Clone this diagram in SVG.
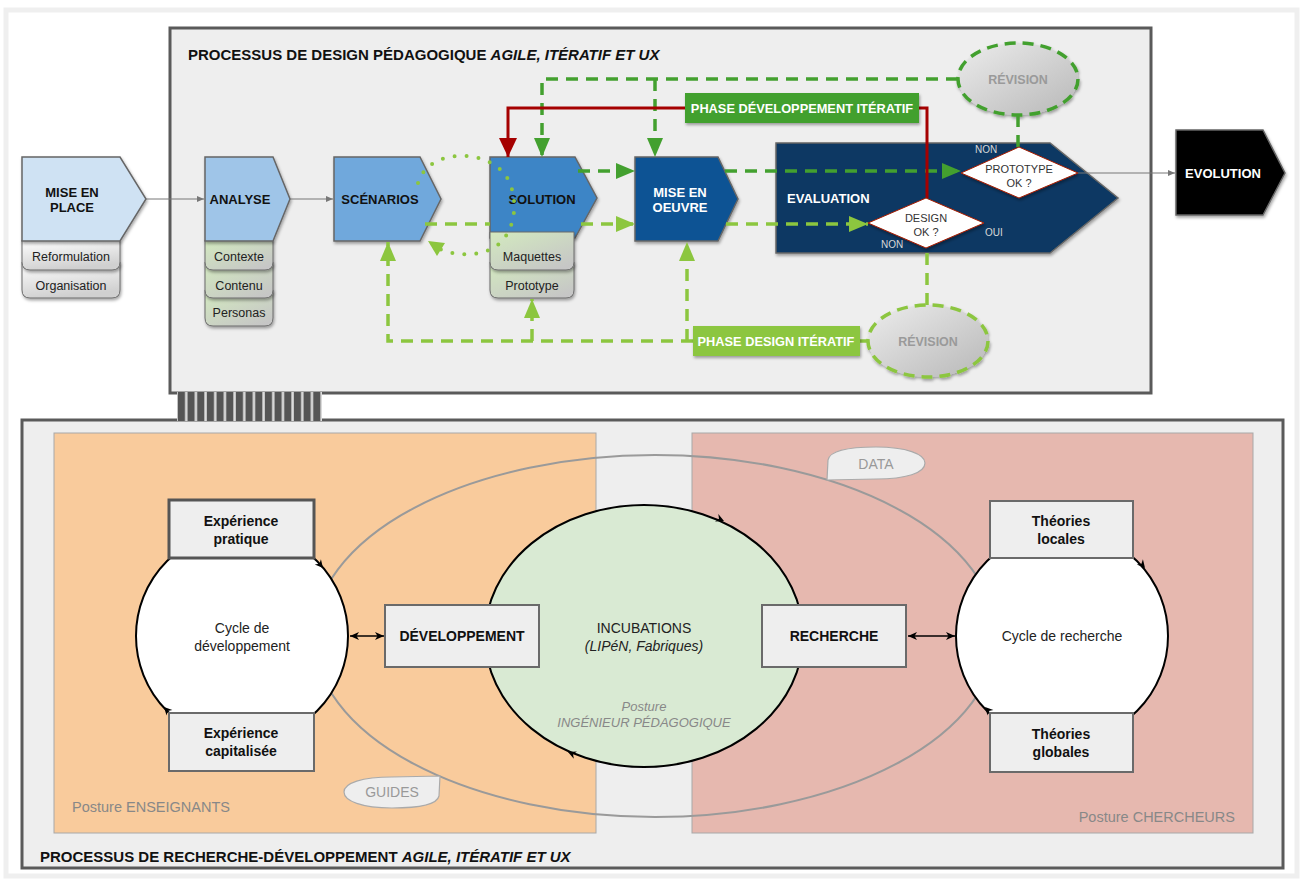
<svg xmlns="http://www.w3.org/2000/svg" width="1301" height="881" viewBox="0 0 1301 881">
<defs>
<style>
text{font-family:"Liberation Sans",Arial,Helvetica,sans-serif}
.t{font-size:15px;font-weight:bold;fill:#111}
.nb{font-size:13px;font-weight:bold;text-anchor:middle}
.tab{font-size:12.5px;fill:#222;text-anchor:middle}
.pent{stroke:#666;stroke-width:1.5}
.tabg{fill:url(#gGray);stroke:#6a6a6a;stroke-width:1}
.tabgr{fill:url(#gGreen);stroke:#6a6a6a;stroke-width:1}
.dg{fill:none;stroke:#43a02f;stroke-width:3.5;stroke-dasharray:12 8}
.lg{fill:none;stroke:#8cc63f;stroke-width:3.5;stroke-dasharray:12 8}
.dot{fill:none;stroke:#8cc63f;stroke-width:4;stroke-linecap:round;stroke-dasharray:0 12}
.red{fill:none;stroke:#a50000;stroke-width:3}
.thin{fill:none;stroke:#777;stroke-width:1}
.blk{fill:none;stroke:#000;stroke-width:1.5}
.box{fill:#eeeeee;stroke:#6a6a6a;stroke-width:2}
.bt{font-size:14px;font-weight:bold;text-anchor:middle;fill:#111}
.rt{font-size:14px;text-anchor:middle;fill:#222}
.gray{fill:#888;font-size:14.5px}
.dia{fill:#fff;stroke:#a61c00;stroke-width:1}
.dt{font-size:11px;fill:#333;text-anchor:middle}
.lbl{font-size:10px;fill:#d8d8d8}
.rev{fill:url(#gRev);stroke-width:3.5;stroke-dasharray:11 7}
.revt{font-size:12.5px;font-weight:bold;fill:#9a9a9a;text-anchor:middle}
.ph{font-size:12.8px;font-weight:bold;fill:#fff;text-anchor:middle}
.call{fill:#eeeeee;stroke:#aaa;stroke-width:1.2}
.callt{font-size:14px;fill:#999;text-anchor:middle}
</style>
<linearGradient id="gGray" x1="0" y1="0" x2="0.3" y2="1"><stop offset="0" stop-color="#ffffff"/><stop offset="1" stop-color="#d0d0d0"/></linearGradient>
<linearGradient id="gGreen" x1="0" y1="0" x2="0.8" y2="1"><stop offset="0" stop-color="#d3eabf"/><stop offset="1" stop-color="#c6c6c6"/></linearGradient>
<linearGradient id="gRev" x1="0" y1="0" x2="1" y2="1"><stop offset="0" stop-color="#ececec"/><stop offset="1" stop-color="#b8b8b8"/></linearGradient>
<filter id="sh" x="-20%" y="-20%" width="140%" height="150%"><feDropShadow dx="1" dy="2" stdDeviation="1.5" flood-color="#000" flood-opacity="0.35"/></filter>
<pattern id="hatch" patternUnits="userSpaceOnUse" x="177" y="0" width="9.67" height="40"><rect width="9.67" height="40" fill="#dddddd"/><rect x="0.8" width="7.2" height="40" fill="#555"/></pattern>
<marker id="aDG" markerUnits="userSpaceOnUse" markerWidth="20" markerHeight="16" refX="19" refY="8" orient="auto"><path d="M0,0 L19,8 L0,16 Z" fill="#43a02f"/></marker>
<marker id="aLG" markerUnits="userSpaceOnUse" markerWidth="20" markerHeight="16" refX="19" refY="8" orient="auto"><path d="M0,0 L19,8 L0,16 Z" fill="#8cc63f"/></marker>
<marker id="aR" markerUnits="userSpaceOnUse" markerWidth="20" markerHeight="18" refX="19" refY="9" orient="auto"><path d="M0,0 L19,9 L0,18 Z" fill="#a50000"/></marker>
<marker id="aG" markerUnits="userSpaceOnUse" markerWidth="8" markerHeight="6" refX="7" refY="3" orient="auto"><path d="M0,0 L7,3 L0,6 Z" fill="#777"/></marker>
<marker id="aB" markerUnits="userSpaceOnUse" markerWidth="10" markerHeight="8" refX="9" refY="4" orient="auto-start-reverse"><path d="M0,0 L9,4 L0,8 L2.5,4 Z" fill="#000"/></marker>
</defs>

<rect width="1301" height="881" fill="#ffffff"/>
<rect x="6" y="10" width="1291" height="866" fill="#ffffff" stroke="#efefef" stroke-width="5"/>

<!-- frames -->
<g id="frame-design">
<rect x="170" y="28" width="981" height="365" fill="#eeeeee" stroke="#5a5a5a" stroke-width="3"/>
<text x="188" y="60" class="t">PROCESSUS DE DESIGN PÉDAGOGIQUE <tspan font-style="italic">AGILE, ITÉRATIF ET UX</tspan></text>
</g>
<g id="frame-rd">
<rect x="22" y="420" width="1261" height="448" fill="#eeeeee" stroke="#5a5a5a" stroke-width="3"/>
<text x="40" y="862" class="t">PROCESSUS DE RECHERCHE-DÉVELOPPEMENT <tspan font-style="italic">AGILE, ITÉRATIF ET UX</tspan></text>
</g>
<g id="link-hatch">
<rect x="177" y="392" width="145" height="29" fill="url(#hatch)"/>
</g>

<!-- top nodes -->
<g id="mise-en-place">
<path class="tabg" filter="url(#sh)" d="M22,262 H120 V290 Q120,298 112,298 H30 Q22,298 22,290 Z"/>
<path class="tabg" filter="url(#sh)" d="M22,240 H120 V262 Q120,270 112,270 H30 Q22,270 22,262 Z"/>
<path class="pent" filter="url(#sh)" fill="#cfe2f3" d="M22,157 H120 L146,199 L120,241 H22 Z"/>
<text class="nb" x="72" y="197" fill="#111">MISE EN</text>
<text class="nb" x="72" y="212" fill="#111">PLACE</text>
<text class="tab" x="71" y="261">Reformulation</text>
<text class="tab" x="71" y="290">Organisation</text>
</g>

<g id="analyse">
<path class="tabgr" filter="url(#sh)" d="M205,290 H273 V318 Q273,326 265,326 H213 Q205,326 205,318 Z"/>
<path class="tabgr" filter="url(#sh)" d="M205,262 H273 V290 Q273,298 265,298 H213 Q205,298 205,290 Z"/>
<path class="tabgr" filter="url(#sh)" d="M205,240 H273 V262 Q273,270 265,270 H213 Q205,270 205,262 Z"/>
<path class="pent" filter="url(#sh)" fill="#9fc5e8" d="M205,157 H273 L290,199 L273,241 H205 Z"/>
<text class="nb" x="240" y="204" fill="#111">ANALYSE</text>
<text class="tab" x="239" y="261">Contexte</text>
<text class="tab" x="239" y="290">Contenu</text>
<text class="tab" x="239" y="317">Personas</text>
</g>

<g id="scenarios">
<path class="pent" filter="url(#sh)" fill="#6fa8dc" d="M334,157 H420 L441,199 L420,241 H334 Z"/>
<text class="nb" x="380" y="204" fill="#111">SCÉNARIOS</text>
</g>

<g id="solution">
<path class="tabgr" filter="url(#sh)" d="M490,262 H574 V290 Q574,298 566,298 H498 Q490,298 490,290 Z"/>
<path class="pent" filter="url(#sh)" fill="#3d85c6" d="M490,157 H575 L597,198 L575,238 H490 Z"/>
<path class="tabgr" filter="url(#sh)" d="M490,232 H574 V262 Q574,270 566,270 H498 Q490,270 490,262 Z"/>
<text class="nb" x="542" y="204" fill="#111">SOLUTION</text>
<text class="tab" x="532" y="261">Maquettes</text>
<text class="tab" x="532" y="290">Prototype</text>
</g>

<g id="mise-en-oeuvre">
<path class="pent" filter="url(#sh)" fill="#0b5394" d="M635,157 H718 L738,199 L718,241 H635 Z"/>
<text class="nb" x="680" y="197" fill="#fff">MISE EN</text>
<text class="nb" x="680" y="212" fill="#fff">OEUVRE</text>
</g>

<g id="evaluation">
<path class="pent" filter="url(#sh)" fill="#073763" d="M776,143 H1050 L1118,198 L1050,253 H776 Z"/>
<text x="787" y="203" font-size="13" font-weight="bold" fill="#fff">EVALUATION</text>
</g>

<g id="evolution">
<path class="pent" filter="url(#sh)" fill="#000" d="M1176,130 H1263 L1285,173 L1263,215 H1176 Z"/>
<text class="nb" x="1223" y="178" fill="#fff">EVOLUTION</text>
</g>

<g id="revision-top">
<ellipse class="rev" filter="url(#sh)" cx="1018" cy="79" rx="60" ry="36" stroke="#43a02f"/>
<text class="revt" x="1018" y="84">RÉVISION</text>
</g>

<g id="revision-bottom">
<ellipse class="rev" filter="url(#sh)" cx="928" cy="341" rx="60" ry="36" stroke="#8cc63f"/>
<text class="revt" x="928" y="346">RÉVISION</text>
</g>

<!-- connectors -->
<g id="connectors">
<path class="thin" d="M146,199 H204" marker-end="url(#aG)"/>
<path class="thin" d="M290,199 H333" marker-end="url(#aG)"/>
<path class="thin" d="M1078,173 H1175" marker-end="url(#aG)"/>

<path class="dg" d="M958,79 H542 V157" marker-end="url(#aDG)"/>
<path class="dg" d="M655,79 V157" marker-end="url(#aDG)"/>
<path class="dg" d="M578,171 H635" marker-end="url(#aDG)"/>
<path class="dg" d="M725,171 H961" marker-end="url(#aDG)"/>
<path class="dg" d="M1018,115 V148"/>

<path class="lg" d="M425,224 H490"/>
<path class="lg" d="M581,224 H635" marker-end="url(#aLG)"/>
<path class="lg" d="M726,224 H868" marker-end="url(#aLG)"/>
<path class="lg" d="M927,305 V249"/>
<path class="lg" d="M868,341 H860"/>
<path class="lg" d="M693,341 H388 V242" marker-end="url(#aLG)"/>
<path class="lg" d="M532,341 V299" marker-end="url(#aLG)"/>
<path class="lg" d="M687,341 V242" marker-end="url(#aLG)"/>

<path class="dot" d="M418,183 C428,150 480,148 503,172 C520,192 518,232 495,247 C478,257 455,256 440,249"/>
<path d="M428,241 L445,243 L437,256 Z" fill="#8cc63f"/>

<path class="red" d="M927,198 V108 H919"/>
<path class="red" d="M685,108 H508 V157" marker-end="url(#aR)"/>
</g>

<g id="phase-dev">
<rect x="685" y="93" width="234" height="30" fill="#43a02f" filter="url(#sh)"/>
<text class="ph" x="802" y="113">PHASE DÉVELOPPEMENT ITÉRATIF</text>
</g>
<g id="phase-design">
<rect x="693" y="326" width="167" height="30" fill="#8cc63f" filter="url(#sh)"/>
<text class="ph" x="776" y="346">PHASE DESIGN ITÉRATIF</text>
</g>

<g id="prototype-ok">
<path class="dia" filter="url(#sh)" d="M961,173 L1019,147 L1078,173 L1019,198 Z"/>
<text class="dt" x="1019" y="173">PROTOTYPE</text>
<text class="dt" x="1019" y="187">OK ?</text>
<text class="lbl" x="975" y="153">NON</text>
</g>
<g id="design-ok">
<path class="dia" filter="url(#sh)" d="M868,223 L926,198 L984,223 L926,248 Z"/>
<text class="dt" x="926" y="222">DESIGN</text>
<text class="dt" x="926" y="236">OK ?</text>
<text class="lbl" x="881" y="248">NON</text>
<text class="lbl" x="985" y="236">OUI</text>
</g>

<!-- bottom section -->
<g id="posture-enseignants">
<rect x="54" y="433" width="542" height="400" fill="#f9cb9c" stroke="#a8a8a8" stroke-width="1"/>
<text class="gray" x="72" y="812">Posture ENSEIGNANTS</text>
</g>
<g id="posture-chercheurs">
<rect x="692" y="433" width="561" height="400" fill="#e6b8af" stroke="#a8a8a8" stroke-width="1"/>
<text class="gray" x="1235" y="822" text-anchor="end">Posture CHERCHEURS</text>
</g>

<g id="connectors-bottom">
<ellipse cx="655" cy="636" rx="341" ry="181" fill="none" stroke="#9a9a9a" stroke-width="2"/>
<path class="blk" d="M350,636 H384" marker-start="url(#aB)" marker-end="url(#aB)"/>
<path class="blk" d="M908,636 H955" marker-start="url(#aB)" marker-end="url(#aB)"/>
</g>

<g id="data">
<path class="call" d="M827,480 L828,460 C830,450 850,447 876,447 C906,447 925,454 925,463 C925,473 906,479 876,479 Z"/>
<text class="callt" x="876" y="469">DATA</text>
</g>
<g id="guides">
<path class="call" d="M440,776 L439,796 C437,805 418,808 392,808 C362,808 344,801 344,792 C344,783 362,777 392,777 Z"/>
<text class="callt" x="392" y="797">GUIDES</text>
</g>

<g id="cycle-developpement">
<circle cx="242" cy="636" r="106" fill="#fff" stroke="#000" stroke-width="2"/>
<path d="M-8,-4 L0,0 L-8,4 L-5.5,0 Z" fill="#000" transform="translate(323,568) rotate(50)"/>
<path d="M-8,-4 L0,0 L-8,4 L-5.5,0 Z" fill="#000" transform="translate(164,707) rotate(-133)"/>
<text class="rt" x="242" y="633">Cycle de</text>
<text class="rt" x="242" y="651">développement</text>
</g>
<g id="experience-pratique">
<rect x="169" y="500" width="145" height="58" fill="#eeeeee" stroke="#555" stroke-width="3"/>
<text class="bt" x="241" y="526">Expérience</text>
<text class="bt" x="241" y="544">pratique</text>
</g>
<g id="experience-capitalisee">
<rect x="169" y="713" width="145" height="58" class="box"/>
<text class="bt" x="241" y="738">Expérience</text>
<text class="bt" x="241" y="756">capitalisée</text>
</g>

<g id="incubations">
<ellipse cx="644" cy="636" rx="159" ry="131" fill="#d9ead3" stroke="#000" stroke-width="2"/>
<path d="M-8,-4 L0,0 L-8,4 L-5.5,0 Z" fill="#000" transform="translate(724,521) rotate(24)"/>
<path d="M-8,-4 L0,0 L-8,4 L-5.5,0 Z" fill="#000" transform="translate(568,752) rotate(203)"/>
<text class="rt" x="644" y="633">INCUBATIONS</text>
<text class="rt" x="644" y="651" font-style="italic">(LIPéN, Fabriques)</text>
<text x="644" y="711" font-size="13" font-style="italic" fill="#888" text-anchor="middle">Posture</text>
<text x="644" y="727" font-size="13" font-style="italic" fill="#888" text-anchor="middle">INGÉNIEUR PÉDAGOGIQUE</text>
</g>

<g id="developpement">
<rect x="385" y="605" width="154" height="62" class="box" stroke="#444"/>
<text class="bt" x="462" y="641" font-size="14.5">DÉVELOPPEMENT</text>
</g>
<g id="recherche">
<rect x="762" y="605" width="144" height="62" class="box" stroke="#444"/>
<text class="bt" x="834" y="641" font-size="14.5">RECHERCHE</text>
</g>

<g id="cycle-recherche">
<circle cx="1062" cy="636" r="106" fill="#fff" stroke="#000" stroke-width="2"/>
<path d="M-8,-4 L0,0 L-8,4 L-5.5,0 Z" fill="#000" transform="translate(1145,568) rotate(50)"/>
<path d="M-8,-4 L0,0 L-8,4 L-5.5,0 Z" fill="#000" transform="translate(985,707) rotate(-133)"/>
<text class="rt" x="1062" y="641">Cycle de recherche</text>
</g>
<g id="theories-locales">
<rect x="990" y="501" width="143" height="57" class="box" stroke="#888"/>
<text class="bt" x="1061" y="526">Théories</text>
<text class="bt" x="1061" y="544">locales</text>
</g>
<g id="theories-globales">
<rect x="990" y="713" width="143" height="59" class="box" stroke="#888"/>
<text class="bt" x="1061" y="739">Théories</text>
<text class="bt" x="1061" y="757">globales</text>
</g>
</svg>
